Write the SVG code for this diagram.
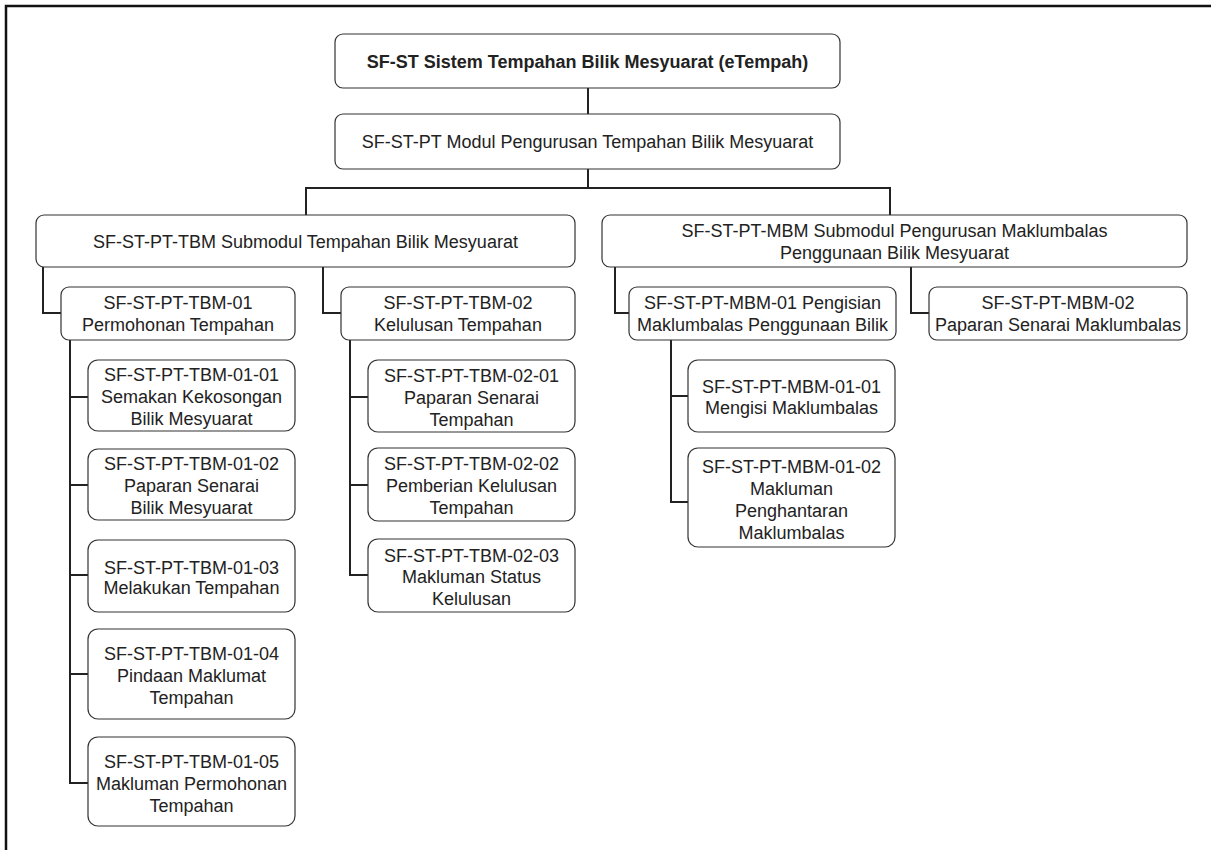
<svg xmlns="http://www.w3.org/2000/svg" width="1211" height="850" viewBox="0 0 1211 850">
<style>
.n rect{fill:#fff;stroke:#333;stroke-width:1.2}
.n text{font-family:"Liberation Sans",Arial,sans-serif;font-size:18px;fill:#222;text-anchor:middle}
.b text{font-weight:bold}
.c path{fill:none;stroke:#222;stroke-width:2}
</style>
<rect width="1211" height="850" fill="#fff"/>
<path d="M6,850 V6 H1211" fill="none" stroke="#111" stroke-width="2.5"/>
<g class="c">
<path d="M588,88 V114"/>
<path d="M588,169 V188 H306 V215 M588,188 H890 V215"/>
<path d="M43,267 V313 H61"/>
<path d="M323,267 V313 H341"/>
<path d="M615,267 V313 H629"/>
<path d="M911,267 V313 H929"/>
<path d="M70,340 V783 H88 M70,397 H88 M70,485 H88 M70,575 H88 M70,674 H88"/>
<path d="M350,340 V575 H368 M350,397 H368 M350,485 H368"/>
<path d="M671,340 V502 H688 M671,396 H688"/>
</g>
<g id="n-root" class="n b"><rect x="335" y="34" width="505" height="54" rx="8"/><text x="587.5" y="68">SF-ST Sistem Tempahan Bilik Mesyuarat (eTempah)</text></g>
<g id="n-pt" class="n"><rect x="335" y="114" width="505" height="55" rx="8"/><text x="587.5" y="148">SF-ST-PT Modul Pengurusan Tempahan Bilik Mesyuarat</text></g>
<g id="n-tbm" class="n"><rect x="36" y="215" width="539" height="52" rx="8"/><text x="305.5" y="248">SF-ST-PT-TBM Submodul Tempahan Bilik Mesyuarat</text></g>
<g id="n-mbm" class="n"><rect x="602" y="215" width="585" height="52" rx="8"/><text x="894.5" y="237">SF-ST-PT-MBM Submodul Pengurusan Maklumbalas</text><text x="894.5" y="259">Penggunaan Bilik Mesyuarat</text></g>
<g id="n-tbm01" class="n"><rect x="61" y="287" width="234" height="53" rx="8"/><text x="178" y="309">SF-ST-PT-TBM-01</text><text x="178" y="331">Permohonan Tempahan</text></g>
<g id="n-tbm02" class="n"><rect x="341" y="287" width="234" height="53" rx="8"/><text x="458" y="309">SF-ST-PT-TBM-02</text><text x="458" y="331">Kelulusan Tempahan</text></g>
<g id="n-mbm01" class="n"><rect x="629" y="287" width="267" height="53" rx="8"/><text x="762.5" y="309">SF-ST-PT-MBM-01 Pengisian</text><text x="762.5" y="331">Maklumbalas Penggunaan Bilik</text></g>
<g id="n-mbm02" class="n"><rect x="929" y="287" width="258" height="53" rx="8"/><text x="1058" y="309">SF-ST-PT-MBM-02</text><text x="1058" y="331">Paparan Senarai Maklumbalas</text></g>
<g id="n-tbm0101" class="n"><rect x="88" y="360" width="207" height="71" rx="10"/><text x="191.5" y="381">SF-ST-PT-TBM-01-01</text><text x="191.5" y="403">Semakan Kekosongan</text><text x="191.5" y="425">Bilik Mesyuarat</text></g>
<g id="n-tbm0102" class="n"><rect x="88" y="449" width="207" height="71" rx="10"/><text x="191.5" y="470">SF-ST-PT-TBM-01-02</text><text x="191.5" y="492">Paparan Senarai</text><text x="191.5" y="514">Bilik Mesyuarat</text></g>
<g id="n-tbm0103" class="n"><rect x="88" y="540" width="207" height="72" rx="10"/><text x="191.5" y="574">SF-ST-PT-TBM-01-03</text><text x="191.5" y="594">Melakukan Tempahan</text></g>
<g id="n-tbm0104" class="n"><rect x="88" y="629" width="207" height="90" rx="10"/><text x="191.5" y="660">SF-ST-PT-TBM-01-04</text><text x="191.5" y="682">Pindaan Maklumat</text><text x="191.5" y="704">Tempahan</text></g>
<g id="n-tbm0105" class="n"><rect x="88" y="737" width="207" height="89" rx="10"/><text x="191.5" y="768">SF-ST-PT-TBM-01-05</text><text x="191.5" y="790">Makluman Permohonan</text><text x="191.5" y="812">Tempahan</text></g>
<g id="n-tbm0201" class="n"><rect x="368" y="360" width="207" height="72" rx="10"/><text x="471.5" y="382">SF-ST-PT-TBM-02-01</text><text x="471.5" y="404">Paparan Senarai</text><text x="471.5" y="426">Tempahan</text></g>
<g id="n-tbm0202" class="n"><rect x="368" y="448" width="207" height="73" rx="10"/><text x="471.5" y="470">SF-ST-PT-TBM-02-02</text><text x="471.5" y="492">Pemberian Kelulusan</text><text x="471.5" y="514">Tempahan</text></g>
<g id="n-tbm0203" class="n"><rect x="368" y="539" width="207" height="73" rx="10"/><text x="471.5" y="562">SF-ST-PT-TBM-02-03</text><text x="471.5" y="583">Makluman Status</text><text x="471.5" y="605">Kelulusan</text></g>
<g id="n-mbm0101" class="n"><rect x="688" y="360" width="207" height="72" rx="10"/><text x="791.5" y="393">SF-ST-PT-MBM-01-01</text><text x="791.5" y="414">Mengisi Maklumbalas</text></g>
<g id="n-mbm0102" class="n"><rect x="688" y="448" width="207" height="99" rx="10"/><text x="791.5" y="473">SF-ST-PT-MBM-01-02</text><text x="791.5" y="495">Makluman</text><text x="791.5" y="517">Penghantaran</text><text x="791.5" y="539">Maklumbalas</text></g>
</svg>
